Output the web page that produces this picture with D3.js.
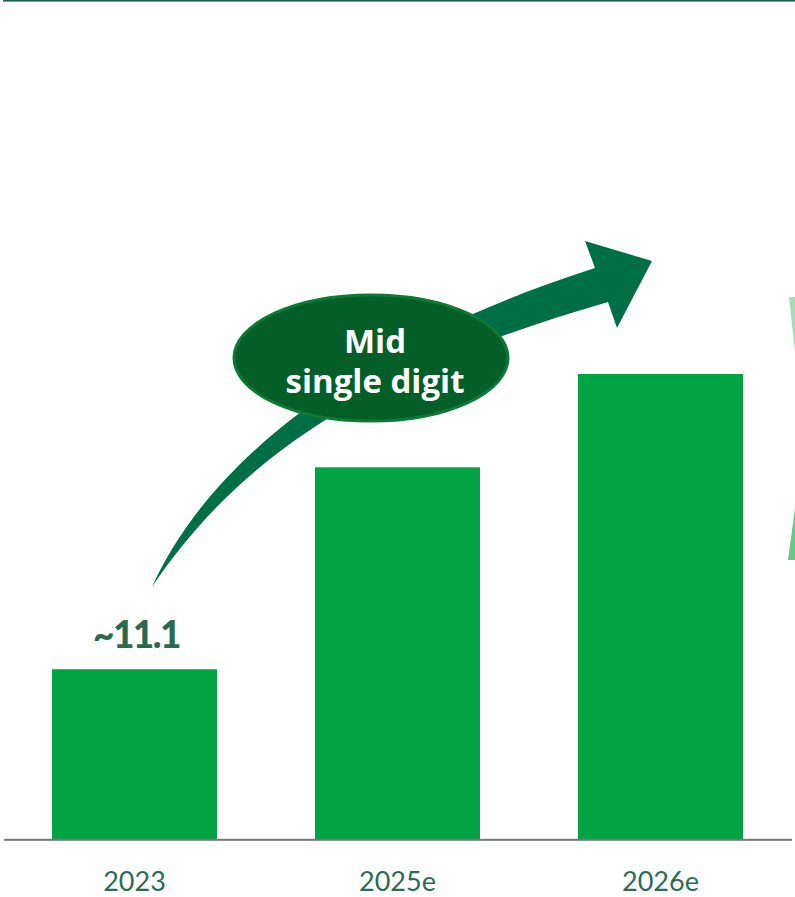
<!DOCTYPE html>
<html>
<head>
<meta charset="utf-8">
<script src="https://cdn.jsdelivr.net/npm/d3@7"></script>
<style>
  html, body { margin: 0; padding: 0; background: #ffffff; }
  svg { display: block; }
</style>
</head>
<body>
<svg id="chart" width="795" height="897"></svg>
<script>
// Chart data
const categories = ["2023", "2025e", "2026e"];
const values = [11.1, 24.3, 30.4];
const valueLabels = ["~11.1", null, null];
const growthLabel = ["Mid", "single digit"];

const W = 795, H = 897;
const svg = d3.select("#chart");

const x = d3.scaleBand()
  .domain(categories)
  .range([3, 792])
  .paddingInner(0.3726)
  .paddingOuter(0.1863);

const y = d3.scaleLinear()
  .domain([0, 30.4])
  .range([839, 374]);

// Top rule
svg.append("rect")
  .attr("x", 3).attr("y", 0)
  .attr("width", W - 3).attr("height", 1.6)
  .attr("fill", "#1f5f4b");

// Partial decorative chevron at the right edge
svg.append("path")
  .attr("d", "M789,297 L795,297 L795,352 Z")
  .attr("fill", "#a6dcb8");
svg.append("path")
  .attr("d", "M795,508 L795,560 L788,560 Z")
  .attr("fill", "#6cc486");

// Bars
svg.append("g").selectAll("rect")
  .data(categories)
  .join("rect")
  .attr("x", d => x(d))
  .attr("width", x.bandwidth())
  .attr("y", (d, i) => y(values[i]))
  .attr("height", (d, i) => y(0) - y(values[i]))
  .attr("fill", "#00a443");

// Baseline
svg.append("rect")
  .attr("x", 4).attr("y", 838.8)
  .attr("width", 788).attr("height", 2)
  .attr("fill", "#777777");

// Category labels
const xAxis = d3.axisBottom(x).tickSize(0).tickPadding(0);
const gx = svg.append("g").attr("transform", "translate(0,891)").call(xAxis);
gx.select(".domain").remove();
gx.selectAll("text")
  .attr("y", 0)
  .attr("dy", 0)
  .attr("font-family", "Lato, 'Open Sans', sans-serif")
  .attr("font-size", 27)
  .attr("font-weight", 400)
  .attr("fill", "#2d6b55");

// Value labels
svg.append("g").selectAll("text")
  .data(categories.filter((d, i) => valueLabels[i]))
  .join("text")
  .attr("x", d => x(d) + x.bandwidth() / 2 + 2)
  .attr("y", d => y(values[categories.indexOf(d)]) - 21)
  .attr("text-anchor", "middle")
  .attr("font-family", "Lato, sans-serif")
  .attr("font-size", 37)
  .attr("font-weight", 900)
  .attr("letter-spacing", -1.5)
  .attr("fill", "#2a6b50")
  .text(d => valueLabels[categories.indexOf(d)]);

// Growth arrow: tapering curved shaft with a broad head
const arrow = d3.path();
arrow.moveTo(152, 587);
arrow.bezierCurveTo(205, 470, 340, 350, 595, 268);
arrow.lineTo(585, 241);
arrow.lineTo(652, 261);
arrow.lineTo(617, 328);
arrow.lineTo(608, 302);
arrow.bezierCurveTo(400, 362, 250, 440, 152, 587);
arrow.closePath();
svg.append("path")
  .attr("d", arrow.toString())
  .attr("fill", "#006f46");

// Growth badge
svg.append("ellipse")
  .attr("cx", 371).attr("cy", 358)
  .attr("rx", 137).attr("ry", 63)
  .attr("fill", "#035f27")
  .attr("stroke", "#0b7a33")
  .attr("stroke-width", 3);

svg.append("text")
  .attr("x", 375)
  .attr("y", 353)
  .attr("text-anchor", "middle")
  .attr("font-family", "'Open Sans', sans-serif")
  .attr("font-size", 33)
  .attr("font-weight", 700)
  .attr("fill", "#ffffff")
  .selectAll("tspan")
  .data(growthLabel)
  .join("tspan")
  .attr("x", 375)
  .attr("dy", (d, i) => i === 0 ? 0 : 40)
  .text(d => d);
</script>
</body>
</html>
